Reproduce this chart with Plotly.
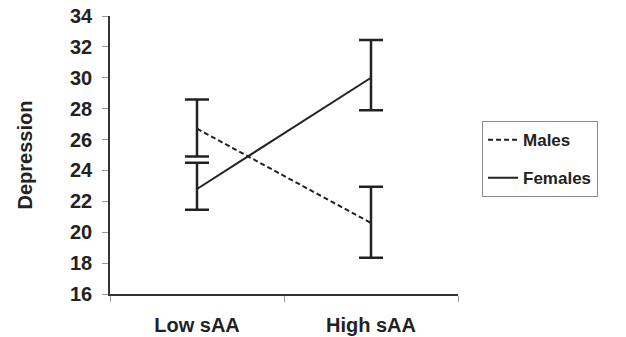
import plotly.graph_objects as go

categories = ["Low sAA", "High sAA"]
males_mean = [26.7, 20.6]
males_err_plus = [1.9, 2.35]
males_err_minus = [1.8, 2.25]
females_mean = [22.8, 30.0]
females_err_plus = [1.7, 2.45]
females_err_minus = [1.35, 2.1]
y_ticks = [16, 18, 20, 22, 24, 26, 28, 30, 32, 34]

ink = "#222222"
font_family = "Liberation Sans, Arial, sans-serif"

fig = go.Figure()
fig.add_trace(go.Scatter(
    x=categories, y=males_mean, name="Males", mode="lines",
    line=dict(color=ink, width=2, dash="5px,3px"),
    error_y=dict(type="data", symmetric=False, array=males_err_plus,
                 arrayminus=males_err_minus, width=12, thickness=2.5, color=ink),
    legendgroup="m",
))
fig.add_trace(go.Scatter(
    x=categories, y=females_mean, name="Females", mode="lines",
    line=dict(color=ink, width=2),
    error_y=dict(type="data", symmetric=False, array=females_err_plus,
                 arrayminus=females_err_minus, width=12, thickness=2.5, color=ink),
    legendgroup="f",
))

fig.update_layout(
    width=626, height=337,
    margin=dict(l=110, r=168, t=16, b=43),
    paper_bgcolor="white", plot_bgcolor="white",
    font=dict(family=font_family, color=ink),
    showlegend=True,
    legend=dict(
        x=1.069, y=0.622, xanchor="left", yanchor="top",
        bordercolor="#8a8a8a", borderwidth=1, bgcolor="white",
        font=dict(size=17, family=font_family, color=ink, weight="bold"),
        traceorder="grouped", tracegroupgap=13,
        itemwidth=30, entrywidth=125, entrywidthmode="pixels",
    ),
    xaxis=dict(
        type="category", range=[-0.5, 1.5], automargin=False,
        tickson="boundaries", ticks="outside", ticklen=6, tickcolor="#999999",
        showline=True, linecolor="#333333", linewidth=1.5,
        showgrid=False, zeroline=False,
        tickfont=dict(size=20, family=font_family, color=ink, weight="bold"),
        ticklabelstandoff=12,
    ),
    yaxis=dict(
        range=[16, 34], tickvals=y_ticks, automargin=False,
        ticks="outside", ticklen=6, tickcolor="#999999",
        showline=True, linecolor="#333333", linewidth=1.5,
        showgrid=False, zeroline=False,
        tickfont=dict(size=20, family=font_family, color=ink, weight="bold"),
        ticklabelstandoff=6,
        title=dict(text="Depression", standoff=32,
                   font=dict(size=20, family=font_family, color=ink, weight="bold")),
    ),
)

fig.write_html(
    "out.html",
    config={"displayModeBar": False},
    post_script="document.body.style.margin='0px';document.body.style.overflow='hidden';",
)
